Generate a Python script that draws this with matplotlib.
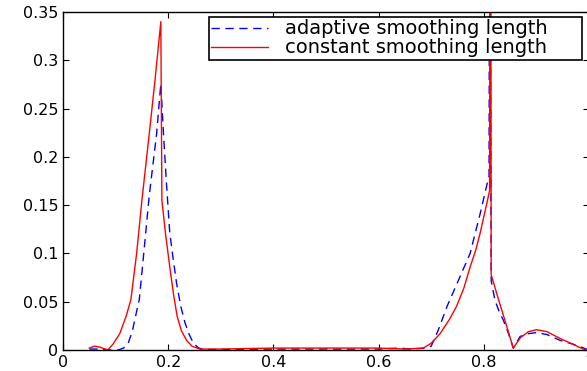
import matplotlib
matplotlib.use("Agg")
import matplotlib.pyplot as plt

# constant smoothing length (solid red)
x_const = [0.05, 0.06, 0.07, 0.085, 0.095, 0.108, 0.12, 0.129, 0.14, 0.150,
           0.164, 0.175, 0.186, 0.188, 0.195, 0.203, 0.210, 0.217, 0.225, 0.235,
           0.245, 0.26, 0.30, 0.40, 0.50, 0.60, 0.65, 0.685, 0.70, 0.717,
           0.735, 0.748, 0.762, 0.774, 0.785, 0.793, 0.800, 0.807, 0.811, 0.8115,
           0.8135, 0.814, 0.827, 0.840, 0.856, 0.870, 0.885, 0.900, 0.92, 0.945,
           0.965, 0.989, 1.0]
y_const = [0.002, 0.004, 0.003, 0.0, 0.006, 0.017, 0.035, 0.052, 0.100, 0.155,
           0.224, 0.280, 0.340, 0.155, 0.120, 0.086, 0.058, 0.035, 0.020, 0.010,
           0.004, 0.001, 0.001, 0.002, 0.002, 0.002, 0.001, 0.002, 0.007, 0.017,
           0.032, 0.045, 0.064, 0.086, 0.104, 0.121, 0.138, 0.155, 0.165, 0.35,
           0.35, 0.078, 0.054, 0.031, 0.002, 0.013, 0.019, 0.021, 0.019, 0.012,
           0.007, 0.001, 0.0]

# adaptive smoothing length (dashed blue)
x_adapt = [0.05, 0.07, 0.09, 0.105, 0.115, 0.124, 0.132, 0.140, 0.145, 0.150,
           0.164, 0.178, 0.186, 0.191, 0.197, 0.203, 0.210, 0.216, 0.224, 0.232,
           0.240, 0.248, 0.258, 0.27, 0.30, 0.40, 0.50, 0.60, 0.64, 0.66,
           0.69, 0.70, 0.713, 0.73, 0.75, 0.774, 0.793, 0.805, 0.808, 0.810,
           0.8105, 0.8125, 0.814, 0.821, 0.829, 0.837, 0.847, 0.856, 0.869, 0.885,
           0.900, 0.92, 0.945, 0.97, 0.99, 1.0]
y_adapt = [0.001, 0.001, 0.0, 0.0, 0.002, 0.007, 0.020, 0.040, 0.052, 0.080,
           0.160, 0.224, 0.276, 0.224, 0.170, 0.121, 0.092, 0.069, 0.045, 0.028,
           0.016, 0.007, 0.002, 0.0005, 0.0005, 0.001, 0.001, 0.001, 0.002, 0.001,
           0.002, 0.004, 0.020, 0.045, 0.070, 0.100, 0.141, 0.169, 0.176, 0.180,
           0.35, 0.35, 0.072, 0.052, 0.040, 0.031, 0.017, 0.002, 0.014, 0.017,
           0.018, 0.016, 0.010, 0.006, 0.002, 0.0]

x_ticks = [0, 0.2, 0.4, 0.6, 0.8, 1.0]
x_labels = ["0", "0.2", "0.4", "0.6", "0.8", "1"]
y_ticks = [0, 0.05, 0.1, 0.15, 0.2, 0.25, 0.3, 0.35]
y_labels = ["0", "0.05", "0.1", "0.15", "0.2", "0.25", "0.3", "0.35"]

plt.rcParams['font.family'] = ['DejaVu Sans']

fig = plt.figure(figsize=(5.87, 3.71), dpi=100)
ax = fig.add_axes([63 / 587, 21 / 371, 526 / 587, 338 / 371])

ax.plot(x_adapt, y_adapt, color='#0000ff', lw=1.0, dashes=(6, 4),
        label='adaptive smoothing length')
ax.plot(x_const, y_const, color='#ff0000', lw=1.0,
        label='constant smoothing length')

ax.set_xlim(0, 1)
ax.set_ylim(0, 0.35)
ax.set_xticks(x_ticks)
ax.set_xticklabels(x_labels)
ax.set_yticks(y_ticks)
ax.set_yticklabels(y_labels)
ax.tick_params(direction='in', top=True, right=True, length=4, labelsize=11.5,
               width=0.8)
for s in ax.spines.values():
    s.set_linewidth(1.0)

# legend box spans roughly x 209..582, y 17..57 px in the figure
leg = ax.legend(loc='upper left',
                bbox_to_anchor=(209 / 587, 1 - 57 / 371, 373 / 587, 40 / 371),
                bbox_transform=fig.transFigure, mode='expand',
                fontsize=14, frameon=True, fancybox=False,
                borderpad=0.12, handlelength=2.9, handletextpad=0.9,
                labelspacing=0.0, borderaxespad=0)
leg.get_frame().set_edgecolor('black')
leg.get_frame().set_linewidth(1.2)
leg.get_frame().set_alpha(1)

fig.savefig("out.png", dpi=100)
